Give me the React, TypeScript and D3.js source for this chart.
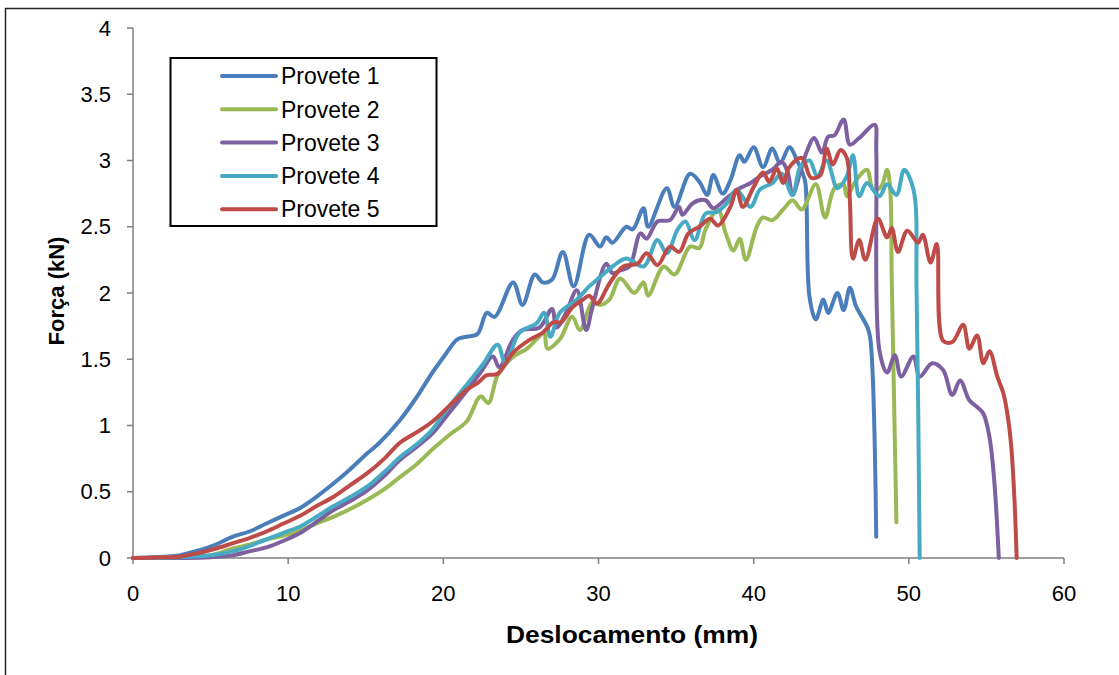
import React from "react";
import { scaleLinear, line, curveCatmullRom } from "d3";

type Pt = [number, number];

// deslocamento (mm), força (kN)
const provete1: Pt[] = [
  [0, 0], [2, 0.01], [3, 0.02], [4.3, 0.06], [5.3, 0.1], [6.4, 0.16], [7.5, 0.2], [8.6, 0.26],
  [9.7, 0.32], [10.8, 0.38], [11.8, 0.46], [12.9, 0.56], [14, 0.67], [15.1, 0.79], [15.8, 0.86],
  [17.2, 1.04], [18.2, 1.2], [19.3, 1.4], [20.1, 1.53], [20.9, 1.65], [21.5, 1.67], [22.2, 1.69],
  [22.8, 1.85], [23.3, 1.82], [24.5, 2.08], [25.1, 1.91], [25.9, 2.14], [26.4, 2.08], [27.0, 2.1],
  [27.7, 2.31], [28.4, 2.05], [29.4, 2.44], [30.1, 2.35], [30.5, 2.42], [30.9, 2.38], [31.8, 2.5],
  [32.2, 2.48], [32.9, 2.64], [33.2, 2.5], [34.4, 2.79], [34.9, 2.65], [35.9, 2.9], [36.5, 2.84],
  [37.0, 2.74], [37.4, 2.89], [38.0, 2.75], [38.5, 2.85], [39.1, 3.04], [39.4, 2.99], [40.0, 3.1],
  [40.6, 2.95], [41.2, 3.09], [41.7, 2.98], [42.3, 3.1], [42.8, 3.0], [43.3, 2.85], [43.4, 2.7],
  [43.6, 1.97], [44.0, 1.8], [44.5, 1.95], [44.8, 1.85], [45.4, 2.0], [45.8, 1.87], [46.2, 2.04],
  [46.6, 1.9], [47.3, 1.75], [47.5, 1.67], [47.9, 0.16],
];

const provete2: Pt[] = [
  [0, 0], [3, 0.005], [5, 0.02], [6.4, 0.07], [7.5, 0.1], [8.6, 0.14], [9.7, 0.17], [10.8, 0.21],
  [11.8, 0.26], [12.9, 0.31], [14, 0.37], [15.1, 0.44], [16.2, 0.52], [17.2, 0.61], [18.3, 0.71],
  [19.3, 0.82], [20.4, 0.93], [21.5, 1.03], [22.4, 1.22], [22.9, 1.17], [23.5, 1.38], [24.5, 1.52],
  [25.4, 1.58], [26.0, 1.65], [26.5, 1.7], [26.7, 1.58], [27.5, 1.65], [28.3, 1.82], [28.8, 1.72],
  [29.6, 1.93], [30.1, 1.91], [30.7, 1.95], [31.4, 2.11], [32.3, 2.0], [32.9, 2.08], [33.2, 1.98],
  [34.2, 2.2], [34.9, 2.14], [35.9, 2.35], [36.5, 2.34], [36.9, 2.48], [37.7, 2.63], [38.2, 2.45],
  [38.7, 2.32], [39.1, 2.41], [39.5, 2.25], [40.2, 2.5], [40.6, 2.57], [41.2, 2.55], [41.9, 2.63],
  [42.5, 2.7], [43.1, 2.63], [44.0, 2.82], [44.6, 2.57], [45.2, 2.79], [45.8, 2.82], [46.0, 2.73],
  [46.6, 2.85], [47.3, 2.93], [47.7, 2.78], [48.2, 2.8], [48.6, 2.93], [48.8, 2.78], [48.9, 2.1],
  [49.2, 0.27],
];

const provete3: Pt[] = [
  [0, 0], [3, 0], [5, 0.005], [6.4, 0.02], [7.5, 0.05], [8.6, 0.08], [9.7, 0.13], [10.8, 0.19],
  [11.8, 0.27], [12.9, 0.36], [14, 0.43], [15.1, 0.51], [16.2, 0.62], [17.2, 0.74], [18.3, 0.84],
  [19.3, 0.94], [20.4, 1.1], [21.5, 1.26], [22.4, 1.4], [23.2, 1.52], [23.6, 1.44], [24.5, 1.65],
  [25.1, 1.72], [26.2, 1.74], [27.0, 1.88], [27.3, 1.74], [27.9, 1.85], [28.6, 2.02], [29.2, 1.72],
  [29.6, 1.89], [30.5, 2.22], [30.9, 2.15], [31.4, 2.17], [32.0, 2.2], [32.7, 2.45], [33.1, 2.41],
  [33.8, 2.54], [34.6, 2.55], [35.2, 2.65], [35.4, 2.59], [36.1, 2.68], [36.9, 2.7], [37.4, 2.64],
  [38.3, 2.72], [39.1, 2.79], [39.8, 2.83], [40.4, 2.88], [41.2, 2.93], [41.8, 2.99], [42.2, 2.91],
  [42.5, 2.74], [43.0, 2.91], [43.4, 3.06], [43.9, 3.17], [44.4, 3.06], [44.8, 3.18], [45.2, 3.19],
  [45.8, 3.31], [46.2, 3.12], [46.8, 3.17], [47.8, 3.27], [47.9, 3.08], [48.1, 1.57], [48.6, 1.4],
  [49.1, 1.53], [49.5, 1.37], [50.3, 1.52], [50.7, 1.37], [51.5, 1.47], [52.2, 1.42], [52.8, 1.23],
  [53.3, 1.34], [53.9, 1.19], [54.4, 1.14], [54.8, 1.09], [55.2, 0.91], [55.5, 0.59], [55.8, 0],
];

const provete4: Pt[] = [
  [0, 0], [3, 0.005], [5, 0.02], [6.4, 0.05], [7.5, 0.09], [8.6, 0.14], [9.7, 0.19], [10.8, 0.24],
  [11.8, 0.31], [12.9, 0.39], [14, 0.46], [15.1, 0.54], [16.2, 0.65], [17.2, 0.76], [18.3, 0.86],
  [19.3, 0.97], [20.1, 1.1], [20.9, 1.22], [21.8, 1.35], [22.6, 1.47], [23.5, 1.61], [24.0, 1.47],
  [24.9, 1.7], [26.0, 1.77], [26.5, 1.85], [26.9, 1.67], [27.5, 1.85], [28.6, 1.95], [29.4, 2.05],
  [30.1, 2.12], [30.9, 2.2], [31.8, 2.26], [32.9, 2.2], [33.8, 2.4], [34.4, 2.3], [35.1, 2.48],
  [35.6, 2.54], [36.2, 2.4], [36.9, 2.6], [37.6, 2.61], [38.3, 2.68], [38.9, 2.78], [39.8, 2.65],
  [40.4, 2.78], [41.2, 2.83], [41.8, 2.9], [42.5, 2.74], [43.0, 2.95], [43.6, 3.0], [44.1, 2.88],
  [44.7, 3.0], [45.4, 2.79], [46.0, 2.88], [46.4, 3.04], [46.8, 2.73], [47.3, 2.83], [48.1, 2.73],
  [48.6, 2.82], [49.2, 2.74], [49.7, 2.93], [50.3, 2.78], [50.5, 2.0], [50.7, 0],
];

const provete5: Pt[] = [
  [0, 0], [2, 0.005], [3, 0.01], [4.3, 0.04], [5.3, 0.07], [6.4, 0.11], [7.5, 0.15], [8.6, 0.2],
  [9.7, 0.26], [10.8, 0.32], [11.8, 0.39], [12.9, 0.46], [14, 0.55], [15.1, 0.64], [16.2, 0.75],
  [17.2, 0.87], [18.3, 0.95], [19.3, 1.03], [20.4, 1.15], [21.5, 1.27], [22.2, 1.32], [22.8, 1.38],
  [23.5, 1.39], [24.5, 1.55], [25.6, 1.65], [26.4, 1.7], [27.1, 1.78], [27.6, 1.78], [28.3, 1.89],
  [29.0, 1.95], [29.4, 1.98], [29.9, 1.92], [30.7, 2.07], [31.6, 2.2], [32.5, 2.22], [33.1, 2.3],
  [33.8, 2.21], [34.6, 2.35], [35.2, 2.31], [35.8, 2.45], [36.5, 2.5], [37.2, 2.56], [37.7, 2.51],
  [38.5, 2.65], [38.9, 2.78], [39.3, 2.65], [40.0, 2.8], [40.6, 2.91], [41.0, 2.84], [41.5, 2.94],
  [41.9, 2.83], [42.3, 2.95], [43.1, 3.02], [43.7, 2.87], [44.3, 2.89], [44.7, 3.09], [45.1, 2.97],
  [45.6, 3.08], [46.0, 3.02], [46.2, 2.7], [46.4, 2.26], [46.8, 2.4], [47.2, 2.25], [48.0, 2.56],
  [48.6, 2.42], [48.9, 2.49], [49.3, 2.31], [49.9, 2.47], [50.6, 2.38], [50.9, 2.44], [51.4, 2.23],
  [51.8, 2.37], [52.2, 1.64], [52.8, 1.63], [53.5, 1.76], [53.9, 1.58], [54.4, 1.68], [54.8, 1.47],
  [55.2, 1.56], [55.7, 1.37], [56.1, 1.24], [56.4, 1.05], [56.6, 0.84], [56.8, 0.46], [56.95, 0],
];

const seriesNames = ["Provete 1", "Provete 2", "Provete 3", "Provete 4", "Provete 5"];
const seriesData = [provete1, provete2, provete3, provete4, provete5];
const colors = ["#4a7ebb", "#98b954", "#7d60a0", "#46aac5", "#be4b48"];

const xTicks = [0, 10, 20, 30, 40, 50, 60];
const yTicks = [0, 0.5, 1, 1.5, 2, 2.5, 3, 3.5, 4];

const W = 1119;
const H = 675;
const font = "'Liberation Sans', Arial, sans-serif";

export default function App() {
  const x = scaleLinear().domain([0, 60]).range([133, 1064]);
  const y = scaleLinear().domain([0, 4]).range([558, 28]);

  const path = line<Pt>()
    .x((d) => x(d[0]))
    .y((d) => y(d[1]))
    .curve(curveCatmullRom.alpha(0.5));

  const axisColor = "#7f7f7f";

  return (
    <svg
      width={W}
      height={H}
      style={{ position: "absolute", left: 0, top: 0, background: "#fff" }}
      fontFamily={font}
    >
      <rect x={5.5} y={8.5} width={1140} height={700} fill="#fff" stroke="#222" strokeWidth={1.5} />

      {/* axes */}
      <line x1={x(0)} x2={x(0)} y1={y(4)} y2={y(0)} stroke={axisColor} strokeWidth={1.5} />
      <line x1={x(0)} x2={x(60)} y1={y(0)} y2={y(0)} stroke={axisColor} strokeWidth={1.5} />
      {yTicks.map((t) => (
        <g key={"y" + t}>
          <line x1={x(0) - 6} x2={x(0)} y1={y(t)} y2={y(t)} stroke={axisColor} strokeWidth={1.5} />
          <text x={111} y={y(t)} dy="0.35em" textAnchor="end" fontSize={22} fill="#000">
            {t}
          </text>
        </g>
      ))}
      {xTicks.map((t) => (
        <g key={"x" + t}>
          <line x1={x(t)} x2={x(t)} y1={y(0)} y2={y(0) + 6} stroke={axisColor} strokeWidth={1.5} />
          <text x={x(t)} y={601} textAnchor="middle" fontSize={22} fill="#000">
            {t}
          </text>
        </g>
      ))}

      {/* series */}
      {seriesData.map((d, i) => (
        <path
          key={seriesNames[i]}
          d={path(d) || ""}
          fill="none"
          stroke={colors[i]}
          strokeWidth={4}
          strokeLinejoin="round"
          strokeLinecap="round"
        />
      ))}

      {/* axis titles */}
      <text
        x={632}
        y={643}
        textAnchor="middle"
        fontSize={23}
        fontWeight="bold"
        fill="#000"
        textLength={252}
        lengthAdjust="spacingAndGlyphs"
      >
        Deslocamento (mm)
      </text>
      <text
        transform="translate(64,291) rotate(-90)"
        textAnchor="middle"
        fontSize={22}
        fontWeight="bold"
        fill="#000"
      >
        Força (kN)
      </text>

      {/* legend */}
      <rect x={170.5} y={58} width={266} height={168} fill="#fff" stroke="#000" strokeWidth={2} />
      {seriesNames.map((n, i) => {
        const ly = 76 + i * 33.3;
        return (
          <g key={"leg" + n}>
            <line x1={222} x2={276} y1={ly} y2={ly} stroke={colors[i]} strokeWidth={4} strokeLinecap="round" />
            <text x={281} y={ly} dy="0.36em" fontSize={23} fill="#000">
              {n}
            </text>
          </g>
        );
      })}
    </svg>
  );
}
